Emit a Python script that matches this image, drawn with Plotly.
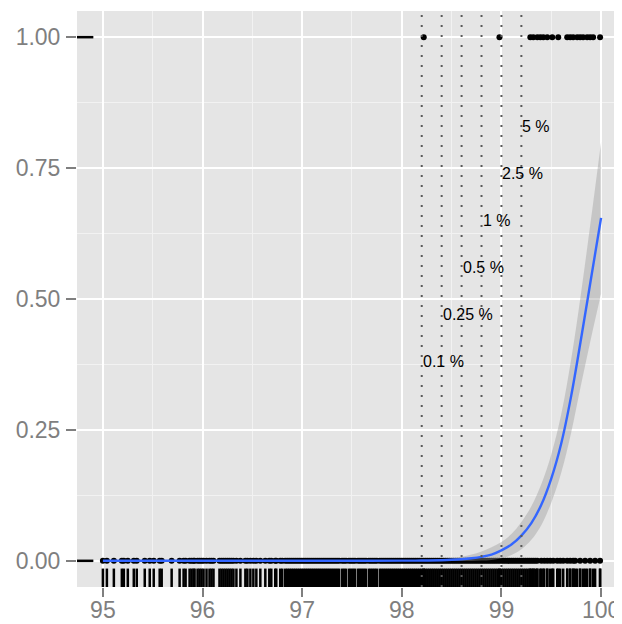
import plotly.graph_objects as go

# ---- data ----
x_zero = [
    95.00, 95.04, 95.11, 95.19, 95.21, 95.25, 95.31, 95.34, 95.42, 95.47, 95.51, 95.57, 95.59,
    95.69, 95.77, 95.81, 95.83, 95.87, 95.89, 95.91, 95.92, 95.95, 95.97, 95.99, 96.01, 96.04,
    96.07, 96.09, 96.11, 96.17, 96.19, 96.21, 96.23, 96.25, 96.27, 96.29, 96.31, 96.34, 96.38,
    96.43, 96.45, 96.48, 96.51, 96.54, 96.58, 96.63, 96.67, 96.69, 96.73, 96.74, 96.78, 96.80,
    96.83, 96.85, 96.87, 96.89, 96.91, 96.93, 96.95, 96.97, 96.99, 97.01, 97.03, 97.05, 97.07,
    97.09, 97.11, 97.13, 97.15, 97.17, 97.19, 97.21, 97.23, 97.25, 97.27, 97.29, 97.31, 97.33,
    97.35, 97.37, 97.40, 97.42, 97.44, 97.47, 97.49, 97.51, 97.53, 97.56, 97.58, 97.60, 97.62,
    97.64, 97.67, 97.69, 97.71, 97.73, 97.75, 97.78, 97.80, 97.82, 97.84, 97.86, 97.88, 97.90,
    97.92, 97.94, 97.96, 97.98, 98.00, 98.02, 98.04, 98.06, 98.08, 98.10, 98.12, 98.14, 98.16,
    98.18, 98.20, 98.22, 98.24, 98.26, 98.28, 98.30, 98.32, 98.34, 98.36, 98.38, 98.40, 98.42,
    98.44, 98.46, 98.48, 98.50, 98.52, 98.54, 98.56, 98.58, 98.60, 98.62, 98.64, 98.66, 98.68,
    98.70, 98.72, 98.74, 98.76, 98.78, 98.80, 98.82, 98.84, 98.86, 98.88, 98.90, 98.92, 98.94,
    98.96, 98.98, 99.00, 99.02, 99.04, 99.06, 99.08, 99.10, 99.12, 99.14, 99.16, 99.18, 99.20,
    99.22, 99.24, 99.26, 99.28, 99.30, 99.32, 99.34, 99.36, 99.40, 99.43, 99.46, 99.49, 99.52,
    99.56, 99.59, 99.62, 99.66, 99.69, 99.72, 99.74, 99.79, 99.84, 99.89, 99.94, 99.99,
]
x_one = [98.22, 98.98, 99.29, 99.32, 99.36, 99.39, 99.42, 99.46, 99.51, 99.57, 99.66, 99.69,
         99.72, 99.76, 99.79, 99.82, 99.86, 99.89, 99.92, 99.99]

fit_x = [95.0, 95.5, 96.0, 96.5, 97.0, 97.5, 98.0, 98.2, 98.4, 98.5, 98.6, 98.7, 98.8, 98.9,
         99.0, 99.1, 99.2, 99.3, 99.4, 99.5, 99.6, 99.7, 99.8, 99.9, 100.0]
fit_y = [0.0000, 0.0000, 0.0000, 0.0000, 0.0001, 0.0001, 0.0003, 0.0005, 0.0012, 0.0019, 0.0030,
         0.0048, 0.0076, 0.0120, 0.0200, 0.0310, 0.0480, 0.0720, 0.1070, 0.1570, 0.2240, 0.3150,
         0.4250, 0.5400, 0.6550]
fit_lo = [0.0000, 0.0000, 0.0000, 0.0000, 0.0000, -0.0001, -0.0003, -0.0004, -0.0005, -0.0005,
          -0.0005, -0.0002, 0.0004, 0.0015, 0.0050, 0.0110, 0.0220, 0.0400, 0.0680, 0.1110, 0.1680,
          0.2450, 0.3370, 0.4260, 0.5100]
fit_hi = [0.0000, 0.0000, 0.0000, 0.0000, 0.0002, 0.0003, 0.0009, 0.0014, 0.0029, 0.0043, 0.0080,
          0.0120, 0.0180, 0.0260, 0.0360, 0.0510, 0.0740, 0.1040, 0.1460, 0.2030, 0.2800, 0.3850,
          0.5130, 0.6540, 0.8000]

cut_x = [98.2, 98.4, 98.6, 98.8, 99.0, 99.2]
cut_labels = ["0.1 %", "0.25 %", "0.5 %", "1 %", "2.5 %", "5 %"]
cut_label_y = [0.38, 0.47, 0.56, 0.65, 0.74, 0.83]

x_ticks = [95, 96, 97, 98, 99, 100]
y_ticks = [0.0, 0.25, 0.5, 0.75, 1.0]
y_tick_text = ["0.00", "0.25", "0.50", "0.75", "1.00"]

X_RANGE = [94.74, 100.21]
Y_RANGE = [-0.05, 1.05]

fig = go.Figure()

# points
fig.add_trace(go.Scatter(x=x_zero, y=[0] * len(x_zero), mode="markers",
                         marker=dict(color="black", size=6), hoverinfo="skip"))
fig.add_trace(go.Scatter(x=x_one, y=[1] * len(x_one), mode="markers",
                         marker=dict(color="black", size=6), hoverinfo="skip"))

# ribbon
fig.add_trace(go.Scatter(x=fit_x, y=fit_lo, mode="lines", line=dict(width=0, shape="spline"),
                         hoverinfo="skip"))
fig.add_trace(go.Scatter(x=fit_x, y=fit_hi, mode="lines", line=dict(width=0, shape="spline"),
                         fill="tonexty", fillcolor="rgba(153,153,153,0.4)", hoverinfo="skip"))
# fitted curve
fig.add_trace(go.Scatter(x=fit_x, y=fit_y, mode="lines",
                         line=dict(color="#3366FF", width=2.4, shape="spline"), hoverinfo="skip"))

# bottom rug
all_x = x_zero + x_one
rx, ry = [], []
rug_top = Y_RANGE[0] + 0.032 * (Y_RANGE[1] - Y_RANGE[0])
for v in all_x:
    rx += [v, v, None]
    ry += [Y_RANGE[0], rug_top, None]
fig.add_trace(go.Scatter(x=rx, y=ry, mode="lines", line=dict(color="black", width=2.5),
                         hoverinfo="skip"))
# left rug
lx, ly = [], []
rug_right = X_RANGE[0] + 0.03 * (X_RANGE[1] - X_RANGE[0])
for yv in [0, 1]:
    lx += [X_RANGE[0], rug_right, None]
    ly += [yv, yv, None]
fig.add_trace(go.Scatter(x=lx, y=ly, mode="lines", line=dict(color="black", width=2.5),
                         hoverinfo="skip"))

# dotted cut lines
for v in cut_x:
    fig.add_shape(type="line", xref="x", yref="paper", x0=v, x1=v, y0=0, y1=1,
                  line=dict(color="#5a5a5a", width=2, dash="2px,8px"))

for v, t, yv in zip(cut_x, cut_labels, cut_label_y):
    fig.add_annotation(x=v, y=yv, text=t, showarrow=False, xanchor="left", yanchor="middle",
                       xshift=-1, font=dict(family="Liberation Sans, Arial", size=16, color="black"))

# page body has an 8px margin, so the figure is sized/offset to land on the window
fig.update_layout(
    width=614, height=616,
    margin=dict(l=69, r=0, t=3, b=37, autoexpand=False),
    paper_bgcolor="white", plot_bgcolor="#E5E5E5",
    showlegend=False,
    font=dict(family="Liberation Sans, Arial", color="#7F7F7F"),
)
fig.update_xaxes(range=X_RANGE, tickvals=x_ticks, ticktext=[str(t) for t in x_ticks],
                 automargin=False,
                 showgrid=True, gridcolor="white", gridwidth=2, zeroline=False,
                 ticks="outside", ticklen=9, tickwidth=2, tickcolor="#7F7F7F",
                 ticklabelstandoff=-7,
                 tickfont=dict(size=23, color="#7F7F7F"),
                 minor=dict(dtick=0.5, tick0=95, showgrid=True, gridcolor="#F2F2F2", gridwidth=1),
                 showline=False)
fig.update_yaxes(range=Y_RANGE, tickvals=y_ticks, ticktext=y_tick_text,
                 automargin=False,
                 showgrid=True, gridcolor="white", gridwidth=2, zeroline=False,
                 ticks="outside", ticklen=10, tickwidth=2, tickcolor="#7F7F7F",
                 ticklabelstandoff=1,
                 tickfont=dict(size=23, color="#7F7F7F"),
                 minor=dict(dtick=0.125, tick0=0, showgrid=True, gridcolor="#F2F2F2", gridwidth=1),
                 showline=False)

fig.write_html("out.html")
